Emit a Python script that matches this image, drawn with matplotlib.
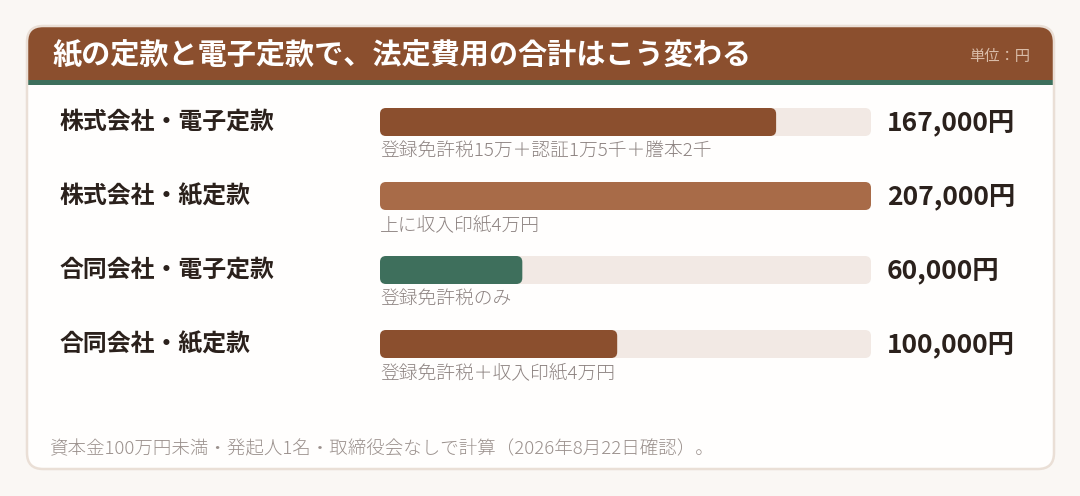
import matplotlib
matplotlib.use("Agg")
import matplotlib.pyplot as plt
from matplotlib.patches import FancyBboxPatch, Rectangle

plt.rcParams['font.family'] = ['Noto Sans CJK JP', 'DejaVu Sans']

# ---- data ----
title = "紙の定款と電子定款で、法定費用の合計はこう変わる"
unit_label = "単位：円"
categories = ["株式会社・電子定款", "株式会社・紙定款", "合同会社・電子定款", "合同会社・紙定款"]
values = [167000, 207000, 60000, 100000]
value_labels = ["167,000円", "207,000円", "60,000円", "100,000円"]
notes = ["登録免許税15万＋認証1万5千＋謄本2千", "上に収入印紙4万円", "登録免許税のみ", "登録免許税＋収入印紙4万円"]
bar_colors = ["#8B4F2E", "#A86B48", "#3E6F5C", "#8B4F2E"]
footnote = "資本金100万円未満・発起人1名・取締役会なしで計算（2026年8月22日確認）。"
scale_max = 207000

W, H = 1080, 496
fig = plt.figure(figsize=(W / 100, H / 100), dpi=100)
fig.patch.set_facecolor("#FAF7F4")

bg = fig.add_axes([0, 0, 1, 1])
bg.set_xlim(0, W)
bg.set_ylim(H, 0)
bg.axis("off")

# card
cx0, cy0, cx1, cy1, r = 27, 26, 1054, 469, 16
card = FancyBboxPatch((cx0, cy0), cx1 - cx0, cy1 - cy0,
                      boxstyle=f"round,pad=0,rounding_size={r}",
                      facecolor="#FFFEFD", edgecolor="none", zorder=1)
bg.add_patch(card)
header = FancyBboxPatch((cx0, cy0), cx1 - cx0, cy1 - cy0,
                        boxstyle=f"round,pad=0,rounding_size={r}",
                        facecolor="#8B4F2E", edgecolor="none", zorder=2)
bg.add_patch(header)
clip = Rectangle((0, cy0 - 5), W, 80 - (cy0 - 5), transform=bg.transData)
header.set_clip_path(clip)
bg.add_patch(Rectangle((cx0, 80), cx1 - cx0, 5, facecolor="#3D6F5C", edgecolor="none", zorder=3))
border = FancyBboxPatch((cx0, cy0), cx1 - cx0, cy1 - cy0,
                        boxstyle=f"round,pad=0,rounding_size={r}",
                        facecolor="none", edgecolor="#EADFD6", linewidth=1.8, zorder=4)
bg.add_patch(border)

bg.text(52, 55, title, color="white", fontsize=21, fontweight="bold",
        va="center", ha="left", zorder=5)
bg.text(1030, 57, unit_label, color="#D9BCA8", fontsize=11,
        va="center", ha="right", zorder=5)

# bar axes
track_x0, track_x1 = 380, 871
row0, row_gap, bar_h = 122, 74, 28
ay_top, ay_bot = 90, 400
bax = fig.add_axes([track_x0 / W, 1 - ay_bot / H, (track_x1 - track_x0) / W, (ay_bot - ay_top) / H])
bax.set_xlim(0, scale_max)
bax.set_ylim(ay_bot, ay_top)
bax.axis("off")
bax.patch.set_alpha(0)
xu = scale_max / (track_x1 - track_x0)  # x units per pixel
rad = 6

for i, (cat, v, vl, note, col) in enumerate(zip(categories, values, value_labels, notes, bar_colors)):
    yc = row0 + i * row_gap
    track = FancyBboxPatch((0, yc - bar_h / 2), scale_max, bar_h,
                           boxstyle=f"round,pad=0,rounding_size={rad * xu}",
                           mutation_aspect=1 / xu,
                           facecolor="#F2E9E4", edgecolor="none", zorder=2)
    bax.add_patch(track)
    bar = FancyBboxPatch((0, yc - bar_h / 2), v, bar_h,
                         boxstyle=f"round,pad=0,rounding_size={rad * xu}",
                         mutation_aspect=1 / xu,
                         facecolor=col, edgecolor="none", zorder=3)
    bax.add_patch(bar)
    bg.text(60, yc, cat, color="#2B211C", fontsize=17.2, fontweight="bold",
            va="center", ha="left", zorder=5)
    bg.text(887, yc + 1, vl, color="#2B211C", fontsize=19, fontweight="bold",
            va="center", ha="left", zorder=5)
    bg.text(track_x0, yc + 29, note, color="#8C8280", fontsize=13.5, fontweight="light",
            va="center", ha="left", zorder=5)

bg.text(50, 449, footnote, color="#9A908C", fontsize=13.3, fontweight="light",
        va="center", ha="left", zorder=5)

fig.savefig("out.png", dpi=100, facecolor=fig.get_facecolor())
